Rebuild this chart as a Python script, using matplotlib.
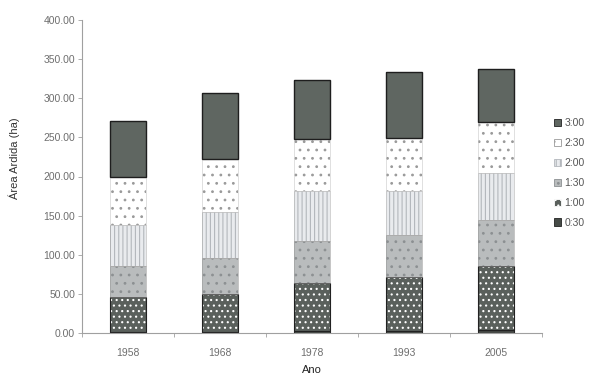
import numpy as np
import matplotlib
matplotlib.use("Agg")
import matplotlib.pyplot as plt
from matplotlib.patches import Patch

# Área ardida por ano, separada por tempo de chegada
anos = ["1958", "1968", "1978", "1993", "2005"]
classes = ["0:30", "1:00", "1:30", "2:00", "2:30", "3:00"]
v_0_30 = [1.0, 1.5, 3.0, 3.0, 4.0]
v_1_00 = [44.5, 48.5, 61.0, 68.0, 81.0]
v_1_30 = [40.0, 45.5, 53.0, 54.0, 59.5]
v_2_00 = [53.0, 58.5, 64.0, 56.0, 60.5]
v_2_30 = [61.0, 68.0, 67.0, 68.0, 65.0]
v_3_00 = [72.0, 85.0, 75.0, 85.0, 67.0]
series = [v_0_30, v_1_00, v_1_30, v_2_00, v_2_30, v_3_00]

# estilo de cada classe: fundo, cor do padrao, padrao, contorno
estilos = [
    dict(fc="#464b47", hc="#464b47", hatch=None, ec="#222222", lw=0.8),
    dict(fc="#5a605c", hc="#ffffff", hatch="...", ec="#222222", lw=0.8),
    dict(fc="#b9bcbd", hc="#8c9092", hatch="..", ec="#9a9a9a", lw=0.4),
    dict(fc="#e9ebee", hc="#b3b7bc", hatch="||||", ec="#b0b0b0", lw=0.4),
    dict(fc="#ffffff", hc="#9a9a9a", hatch="..", ec="#c8c8c8", lw=0.4),
    dict(fc="#5f6661", hc="#5f6661", hatch=None, ec="#1e1e1e", lw=1.0),
]

plt.rcParams["font.family"] = ["Liberation Sans", "DejaVu Sans"]
plt.rcParams["hatch.linewidth"] = 0.8

fig = plt.figure(figsize=(5.96, 3.78), dpi=100)
ax = fig.add_axes([82 / 596, 45 / 378, 460 / 596, 313 / 378])

x = np.arange(len(anos))
largura = 0.4
base = np.zeros(len(anos))
handles = []
for nome, vals, st in zip(classes, series, estilos):
    vals = np.array(vals)
    ax.bar(x, vals, largura, bottom=base, color=st["fc"], edgecolor=st["hc"],
           hatch=st["hatch"], linewidth=0)
    ax.bar(x, vals, largura, bottom=base, fill=False, edgecolor=st["ec"],
           linewidth=st["lw"])
    base += vals
    handles.append(Patch(facecolor=st["fc"], edgecolor=st["hc"] if st["hatch"] else "#222222",
                         hatch=st["hatch"], linewidth=0.6, label=nome))

ax.set_xlim(-0.5, len(anos) - 0.5)
ax.set_ylim(0, 400)
ax.set_yticks(np.arange(0, 401, 50))
ax.set_yticklabels([f"{v:.2f}" for v in np.arange(0, 401, 50)])
ax.set_xticks(x)
ax.set_xticklabels(anos)
ax.set_xticks(np.arange(-0.5, len(anos)), minor=True)

for s in ["top", "right"]:
    ax.spines[s].set_visible(False)
for s in ["left", "bottom"]:
    ax.spines[s].set_color("#a0a0a0")
    ax.spines[s].set_linewidth(0.8)

ax.tick_params(axis="y", length=3, width=0.6, color="#a0a0a0", pad=2,
               labelsize=7.5, labelcolor="#6e6e6e")
ax.tick_params(axis="x", which="major", length=0, pad=10.5,
               labelsize=7.5, labelcolor="#6e6e6e")
ax.tick_params(axis="x", which="minor", length=3, width=0.6, color="#a0a0a0")

ax.set_ylabel("Área Ardida (ha)", fontsize=8, color="#333333")
ax.yaxis.set_label_coords(-62 / 460, 0.56)
ax.set_xlabel("Ano", fontsize=8, color="#222222", labelpad=5)

fig.legend(handles=handles[::-1], loc="center left",
           bbox_to_anchor=(554 / 596, 1 - 173 / 378), frameon=False,
           fontsize=7.5, labelcolor="#555555", handlelength=0.7, handleheight=0.7,
           handletextpad=0.3, labelspacing=0.95, borderpad=0, borderaxespad=0)

fig.savefig("out.png", dpi=100)
